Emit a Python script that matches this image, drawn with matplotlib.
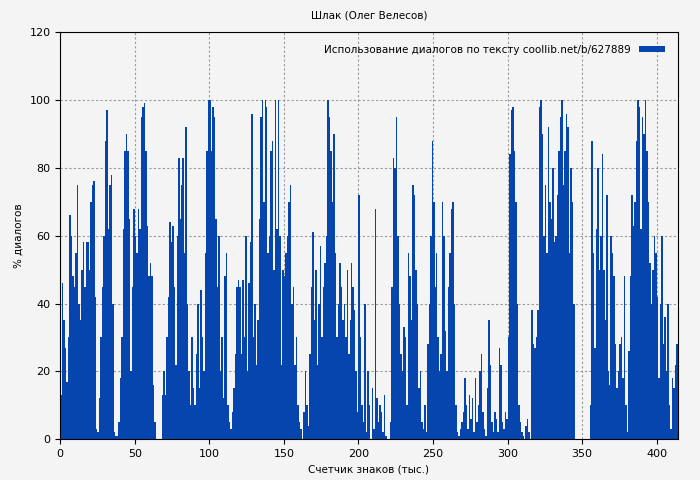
import matplotlib
matplotlib.use("Agg")
import matplotlib.pyplot as plt
import numpy as np

values = [
13,46,35,27,17,30,66,60,48,45,
55,75,40,35,50,58,45,58,58,50,
70,75,76,42,3,2,12,30,45,60,
88,97,62,75,78,40,2,1,1,5,
18,30,62,85,90,85,65,20,45,68,
60,55,68,62,95,98,99,85,63,48,
52,48,16,5,0,0,0,0,13,20,
13,30,42,64,58,63,45,22,60,83,
65,75,83,55,92,40,20,10,30,15,
10,25,40,15,44,30,20,55,85,100,
100,85,98,95,65,45,60,20,30,12,
48,55,10,5,3,8,15,25,45,47,
45,25,47,30,60,20,46,58,96,30,
40,22,35,65,95,100,70,100,98,55,
60,85,88,50,100,62,100,60,22,50,
48,55,60,70,75,40,45,22,30,10,
5,3,0,8,20,10,4,25,45,61,
35,50,22,40,57,30,45,52,60,100,
95,85,70,90,55,30,40,52,45,35,
40,30,50,25,35,52,45,38,20,8,
72,30,10,5,40,2,20,10,0,15,
3,68,12,5,10,8,2,13,1,0,
0,5,45,83,80,95,60,40,25,20,
33,30,10,55,48,35,75,72,50,40,
15,20,5,3,10,2,28,40,60,88,
70,45,55,30,20,25,70,60,32,20,
45,55,68,70,40,10,2,1,3,5,
8,18,10,3,13,6,12,2,18,5,
10,20,25,8,3,1,15,35,22,5,
2,8,6,2,27,22,5,3,8,6,
30,84,97,98,85,70,40,10,5,2,
1,0,4,6,2,0,38,28,27,30,
38,98,100,90,60,75,55,92,70,65,
80,58,60,72,85,95,100,75,85,96,
92,55,80,70,40,0,0,0,0,0,
0,0,0,0,0,
10,88,55,27,62,80,50,60,84,50,
35,72,20,16,60,55,48,28,15,20,
28,30,18,48,10,2,26,48,72,63,
70,88,100,98,62,95,90,100,85,70,
52,40,50,60,55,42,18,40,60,28,
36,20,40,10,3,18,15,22,28,10,
]
xs = np.arange(len(values))

plt.rcParams['font.family'] = ['DejaVu Sans']
fig = plt.figure(figsize=(7, 4.8), dpi=100, facecolor='#f4f4f4')
ax = fig.add_axes([0.086, 0.085, 0.882, 0.848])
ax.set_facecolor('#f4f4f4')
ax.bar(xs, values, width=1.0, align='edge', color='#0645ad', linewidth=0,
       label='Использование диалогов по тексту coollib.net/b/627889')
ax.set_xlim(0, 414)
ax.set_ylim(0, 120)
ax.set_xticks([0, 50, 100, 150, 200, 250, 300, 350, 400])
ax.set_yticks([0, 20, 40, 60, 80, 100, 120])
ax.tick_params(labelsize=8)
ax.grid(True, color='#999999', linestyle=(0, (2, 2)), linewidth=0.8)
ax.set_axisbelow(True)
ax.set_xlabel('Счетчик знаков (тыс.)', fontsize=7.5)
ax.set_ylabel('% диалогов', fontsize=7.5)
ax.set_title('Шлак (Олег Велесов)', fontsize=7.5, pad=10)
leg = ax.legend(loc='upper right', fontsize=7.5, frameon=False, handlelength=2.5,
                handleheight=0.4, markerfirst=False, borderaxespad=0.8)
fig.savefig('out.png', dpi=100, facecolor='#f4f4f4')
